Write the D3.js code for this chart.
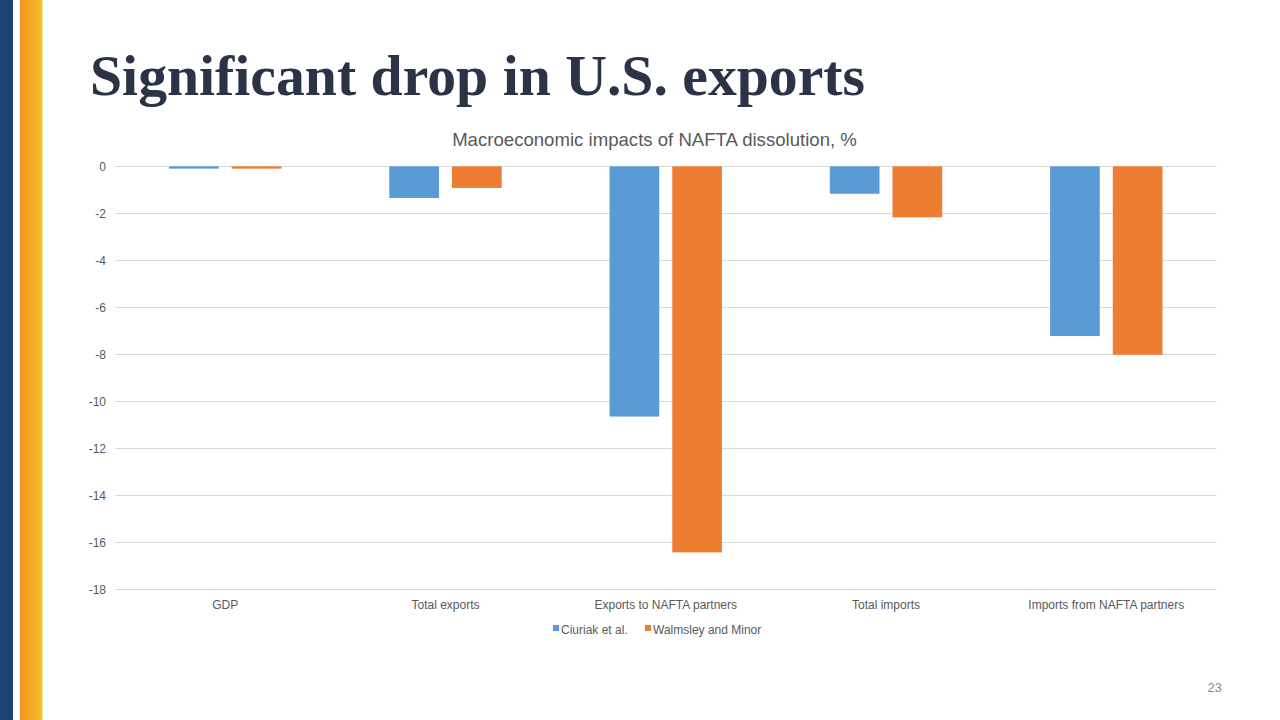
<!DOCTYPE html>
<html><head><meta charset="utf-8">
<script src="https://cdn.jsdelivr.net/npm/d3@7"></script>
<style>
html,body{margin:0;padding:0;background:#fff;}
svg{display:block;}
</style></head>
<body>
<svg id="c" width="1280" height="720"></svg>
<script>
const categories = ["GDP","Total exports","Exports to NAFTA partners","Total imports","Imports from NAFTA partners"];
const seriesNames = ["Ciuriak et al.","Walmsley and Minor"];
const ciuriak = [-0.1,-1.35,-10.65,-1.17,-7.22];
const walmsley = [-0.1,-0.92,-16.43,-2.17,-8.02];
const yTicks = [0,-2,-4,-6,-8,-10,-12,-14,-16,-18];
const colors = ["#5b9bd5","#ed7d31"];

const svg = d3.select("#c");
// left decorative stripes
const defs = svg.append("defs");
const g = defs.append("linearGradient").attr("id","og").attr("x1","0").attr("x2","1");
g.append("stop").attr("offset","0").attr("stop-color","#f39321");
g.append("stop").attr("offset","1").attr("stop-color","#f3c02c");
svg.append("rect").attr("x",0).attr("y",0).attr("width",13).attr("height",720).attr("fill","#1b4472");
svg.append("rect").attr("x",20).attr("y",0).attr("width",22).attr("height",720).attr("fill","url(#og)");
svg.append("rect").attr("x",42).attr("y",0).attr("width",1).attr("height",720).attr("fill","#fbeaa8");

// slide title
const title = svg.append("text").attr("x",90).attr("y",95)
  .attr("font-family","'Liberation Serif','DejaVu Serif',serif").attr("font-weight","bold")
  .attr("font-size",57).attr("fill","#2b3446").text("Significant drop in U.S. exports");
title.attr("textLength",775).attr("lengthAdjust","spacingAndGlyphs");

// chart title
svg.append("text").attr("x",654.5).attr("y",146).attr("text-anchor","middle")
  .attr("font-family","'Liberation Sans',Arial,sans-serif").attr("font-size",18.6)
  .attr("fill","#595959").text("Macroeconomic impacts of NAFTA dissolution, %");

const x0 = d3.scaleBand().domain(categories).range([115.1,1216.4]).paddingInner(0).paddingOuter(0);
const y = d3.scaleLinear().domain([0,-18]).range([166.3,589.3]);

// gridlines
svg.append("g").selectAll("line").data(yTicks).join("line")
  .attr("x1",115.1).attr("x2",1216.4)
  .attr("y1",d=>Math.round(y(d))+0.5).attr("y2",d=>Math.round(y(d))+0.5)
  .attr("stroke","#d9d9d9").attr("stroke-width",1);

// y labels
const yAxis = d3.axisLeft(y).tickValues(yTicks).tickSize(0).tickPadding(0).tickFormat(d3.format("d"));
const ya = svg.append("g").attr("transform","translate(106,0)").call(yAxis);
ya.select(".domain").remove();
ya.selectAll("text").attr("font-family","'Liberation Sans',Arial,sans-serif").attr("font-size",12).attr("fill","#595959").text(d=>d===0?"0":"-"+Math.abs(d));

// x labels
const xAxis = d3.axisBottom(x0).tickSize(0).tickPadding(0);
const xa = svg.append("g").attr("transform","translate(0,600)").call(xAxis);
xa.select(".domain").remove();
xa.selectAll("text").attr("font-family","'Liberation Sans',Arial,sans-serif").attr("font-size",12).attr("fill","#595959");

// bars
const barW = 49.7, gap = 13;
const x1 = d3.scaleOrdinal().domain([0,1]).range([-(gap/2+barW), gap/2]);
const data = categories.map((c,i)=>({c, v:[ciuriak[i],walmsley[i]]}));
const grp = svg.append("g").selectAll("g").data(data).join("g")
  .attr("transform",d=>`translate(${x0(d.c)+x0.bandwidth()/2},0)`);
grp.selectAll("rect").data(d=>d.v.map((v,k)=>({v,k}))).join("rect")
  .attr("x",d=>x1(d.k)).attr("width",barW)
  .attr("y",y(0)).attr("height",d=>y(d.v)-y(0))
  .attr("fill",d=>colors[d.k]);

// legend
const legItems = [{x:553,tx:561},{x:645,tx:653}];
const leg = svg.append("g");
seriesNames.forEach((n,i)=>{
  leg.append("rect").attr("x",legItems[i].x).attr("y",625).attr("width",6).attr("height",6).attr("fill",colors[i]);
  leg.append("text").attr("x",legItems[i].tx).attr("y",634)
    .attr("font-family","'Liberation Sans',Arial,sans-serif").attr("font-size",12).attr("fill","#595959").text(n);
});

// page number
svg.append("text").attr("x",1222).attr("y",692).attr("text-anchor","end")
  .attr("font-family","'Liberation Sans',Arial,sans-serif").attr("font-size",13).attr("fill","#8c8c8c").text("23");
</script>
</body></html>
